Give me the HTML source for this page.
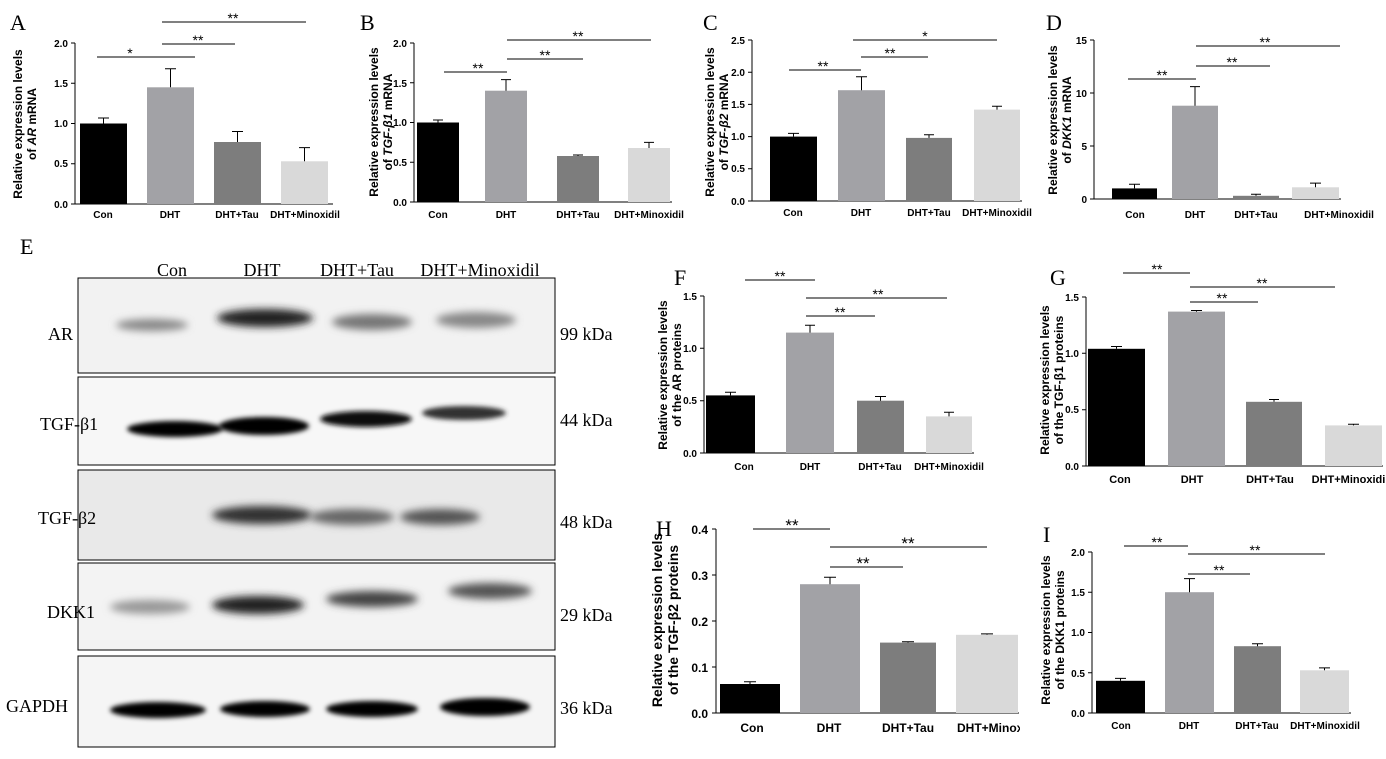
<!DOCTYPE html>
<html><head><meta charset="utf-8"><style>
body{margin:0;background:#fff}
svg{display:block}
.t{font-family:"Liberation Sans",sans-serif;font-weight:bold;font-size:10px;fill:#000}
.y{font-family:"Liberation Sans",sans-serif;font-weight:bold;font-size:12px;fill:#000}
.s{font-family:"Liberation Sans",sans-serif;font-size:14px;fill:#000}
.L{font-family:"Liberation Serif",serif;font-size:22px;fill:#000}
.w{font-family:"Liberation Serif",serif;font-size:18px;fill:#000}
line,path{stroke:#000;stroke-width:1;fill:none}
</style></head><body>
<svg width="1386" height="759" xmlns="http://www.w3.org/2000/svg">
<defs>
<filter id="b" x="-30%" y="-100%" width="160%" height="300%"><feGaussianBlur stdDeviation="4"/></filter>
<filter id="b2" x="-30%" y="-100%" width="160%" height="300%"><feGaussianBlur stdDeviation="2.5"/></filter>
<clipPath id="ch"><rect x="700" y="700" width="320" height="50"/></clipPath>
</defs>

<!-- letters -->
<text class="L" x="10" y="30">A</text><text class="L" x="360" y="30">B</text><text class="L" x="703" y="30">C</text><text class="L" x="1046" y="30">D</text>
<text class="L" x="20" y="254">E</text><text class="L" x="674" y="285">F</text><text class="L" x="1050" y="285">G</text><text class="L" x="656" y="536">H</text><text class="L" x="1043" y="542">I</text>

<!-- Panel A -->
<g>
<line x1="75" y1="43" x2="75" y2="204"/><line x1="75" y1="204" x2="333" y2="204"/>
<path d="M71 43H75M71 83.25H75M71 123.5H75M71 163.75H75M71 204H75"/>
<text class="t" x="68" y="47" text-anchor="end">2.0</text><text class="t" x="68" y="87" text-anchor="end">1.5</text><text class="t" x="68" y="127" text-anchor="end">1.0</text><text class="t" x="68" y="167" text-anchor="end">0.5</text><text class="t" x="68" y="208" text-anchor="end">0.0</text>
<rect x="80" y="123.5" width="47" height="80.5" fill="#000"/>
<rect x="147" y="87.3" width="47" height="116.7" fill="#a2a2a6"/>
<rect x="214" y="142" width="47" height="62" fill="#7d7d7d"/>
<rect x="281" y="161.3" width="47" height="42.7" fill="#d9d9d9"/>
<path d="M103.5 123.5V118M98 118H109M170.5 87.3V68.8M165 68.8H176M237.5 142V131.5M232 131.5H243M304.5 161.3V147.6M299 147.6H310"/>
<path d="M97 57H195M162 44H235M162 22H306" stroke-width="0.8"/>
<text class="s" x="130" y="58" text-anchor="middle">*</text><text class="s" x="198" y="45" text-anchor="middle">**</text><text class="s" x="233" y="23" text-anchor="middle">**</text>
<text class="t" x="103" y="218" text-anchor="middle">Con</text><text class="t" x="170" y="218" text-anchor="middle">DHT</text><text class="t" x="237" y="218" text-anchor="middle">DHT+Tau</text><text class="t" x="305" y="218" text-anchor="middle">DHT+Minoxidil</text>
<text class="y" transform="translate(22,124) rotate(-90)" text-anchor="middle">Relative expression levels</text>
<text class="y" transform="translate(36,124) rotate(-90)" text-anchor="middle">of <tspan font-style="italic">AR</tspan> mRNA</text>
</g>

<!-- Panel B -->
<g>
<line x1="414" y1="43" x2="414" y2="202"/><line x1="414" y1="202" x2="672" y2="202"/>
<path d="M410 43H414M410 82.75H414M410 122.5H414M410 162.25H414M410 202H414"/>
<text class="t" x="407" y="47" text-anchor="end">2.0</text><text class="t" x="407" y="87" text-anchor="end">1.5</text><text class="t" x="407" y="126" text-anchor="end">1.0</text><text class="t" x="407" y="166" text-anchor="end">0.5</text><text class="t" x="407" y="206" text-anchor="end">0.0</text>
<rect x="417" y="122.5" width="42" height="79.5" fill="#000"/>
<rect x="485" y="90.7" width="42" height="111.3" fill="#a2a2a6"/>
<rect x="557" y="156" width="42" height="46" fill="#7d7d7d"/>
<rect x="628" y="148" width="42" height="54" fill="#d9d9d9"/>
<path d="M438 122.5V120M433 120H443M506 90.7V79.6M501 79.6H511M578 156V155M573 155H583M649 148V142.4M644 142.4H654"/>
<path d="M444 72H507M507 59H583M507 40H651" stroke-width="0.8"/>
<text class="s" x="478" y="73" text-anchor="middle">**</text><text class="s" x="545" y="60" text-anchor="middle">**</text><text class="s" x="578" y="41" text-anchor="middle">**</text>
<text class="t" x="438" y="218" text-anchor="middle">Con</text><text class="t" x="506" y="218" text-anchor="middle">DHT</text><text class="t" x="578" y="218" text-anchor="middle">DHT+Tau</text><text class="t" x="649" y="218" text-anchor="middle">DHT+Minoxidil</text>
<text class="y" transform="translate(378,122) rotate(-90)" text-anchor="middle">Relative expression levels</text>
<text class="y" transform="translate(392,122) rotate(-90)" text-anchor="middle">of <tspan font-style="italic">TGF-β1</tspan> mRNA</text>
</g>

<!-- Panel C -->
<g>
<line x1="752" y1="40" x2="752" y2="201"/><line x1="752" y1="201" x2="1022" y2="201"/>
<path d="M748 40H752M748 72.2H752M748 104.4H752M748 136.6H752M748 168.8H752M748 201H752"/>
<text class="t" x="745" y="44" text-anchor="end">2.5</text><text class="t" x="745" y="76" text-anchor="end">2.0</text><text class="t" x="745" y="108" text-anchor="end">1.5</text><text class="t" x="745" y="140" text-anchor="end">1.0</text><text class="t" x="745" y="172" text-anchor="end">0.5</text><text class="t" x="745" y="205" text-anchor="end">0.0</text>
<rect x="770" y="136.6" width="47" height="64.4" fill="#000"/>
<rect x="838" y="90.2" width="47" height="110.8" fill="#a2a2a6"/>
<rect x="906" y="137.9" width="46" height="63.1" fill="#7d7d7d"/>
<rect x="974" y="109.6" width="46" height="91.4" fill="#d9d9d9"/>
<path d="M793.5 136.6V133.4M788 133.4H799M861.5 90.2V76.7M856 76.7H867M929 137.9V134.7M924 134.7H934M997 109.6V106.3M992 106.3H1002"/>
<path d="M789 70H861M861 57H928M853 40H997" stroke-width="0.8"/>
<text class="s" x="823" y="71" text-anchor="middle">**</text><text class="s" x="890" y="58" text-anchor="middle">**</text><text class="s" x="925" y="41" text-anchor="middle">*</text>
<text class="t" x="793" y="216" text-anchor="middle">Con</text><text class="t" x="861" y="216" text-anchor="middle">DHT</text><text class="t" x="929" y="216" text-anchor="middle">DHT+Tau</text><text class="t" x="997" y="216" text-anchor="middle">DHT+Minoxidil</text>
<text class="y" transform="translate(714,122) rotate(-90)" text-anchor="middle">Relative expression levels</text>
<text class="y" transform="translate(728,122) rotate(-90)" text-anchor="middle">of <tspan font-style="italic">TGF-β2</tspan>  mRNA</text>
</g>

<!-- Panel D -->
<g>
<line x1="1094" y1="40" x2="1094" y2="199"/><line x1="1094" y1="199" x2="1341" y2="199"/>
<path d="M1090 40H1094M1090 93H1094M1090 146H1094M1090 199H1094"/>
<text class="t" x="1087" y="44" text-anchor="end">15</text><text class="t" x="1087" y="97" text-anchor="end">10</text><text class="t" x="1087" y="150" text-anchor="end">5</text><text class="t" x="1087" y="203" text-anchor="end">0</text>
<rect x="1112" y="188.4" width="45" height="10.6" fill="#000"/>
<rect x="1172" y="105.7" width="46" height="93.3" fill="#a2a2a6"/>
<rect x="1233" y="195.8" width="46" height="3.2" fill="#7d7d7d"/>
<rect x="1292" y="187.3" width="47" height="11.7" fill="#d9d9d9"/>
<path d="M1134.5 188.4V184.2M1129 184.2H1140M1195 105.7V86.6M1190 86.6H1200M1256 195.8V194.2M1251 194.2H1261M1315.5 187.3V183.1M1310 183.1H1321"/>
<path d="M1128 79H1196M1196 66H1270M1196 46H1340" stroke-width="0.8"/>
<text class="s" x="1162" y="80" text-anchor="middle">**</text><text class="s" x="1232" y="67" text-anchor="middle">**</text><text class="s" x="1265" y="47" text-anchor="middle">**</text>
<text class="t" x="1135" y="218" text-anchor="middle">Con</text><text class="t" x="1195" y="218" text-anchor="middle">DHT</text><text class="t" x="1256" y="218" text-anchor="middle">DHT+Tau</text><text class="t" x="1339" y="218" text-anchor="middle">DHT+Minoxidil</text>
<text class="y" transform="translate(1057,120) rotate(-90)" text-anchor="middle">Relative expression levels</text>
<text class="y" transform="translate(1071,120) rotate(-90)" text-anchor="middle">of <tspan font-style="italic">DKK1</tspan> mRNA</text>
</g>

<!-- Panel F -->
<g>
<line x1="704" y1="296" x2="704" y2="453"/><line x1="704" y1="453" x2="974" y2="453"/>
<path d="M700 296H704M700 348.3H704M700 400.7H704M700 453H704"/>
<text class="t" x="697" y="300" text-anchor="end">1.5</text><text class="t" x="697" y="352" text-anchor="end">1.0</text><text class="t" x="697" y="404" text-anchor="end">0.5</text><text class="t" x="697" y="457" text-anchor="end">0.0</text>
<rect x="706" y="395.4" width="49" height="57.6" fill="#000"/>
<rect x="786" y="332.6" width="48" height="120.4" fill="#a2a2a6"/>
<rect x="857" y="400.7" width="47" height="52.3" fill="#7d7d7d"/>
<rect x="926" y="416.4" width="46" height="36.6" fill="#d9d9d9"/>
<path d="M730.5 395.4V392.3M725 392.3H736M810 332.6V325.3M805 325.3H815M880.5 400.7V396.5M875 396.5H886M949 416.4V412.2M944 412.2H954"/>
<path d="M745 280H815M806 316H875M806 298H947" stroke-width="0.8"/>
<text class="s" x="780" y="281" text-anchor="middle">**</text><text class="s" x="840" y="317" text-anchor="middle">**</text><text class="s" x="878" y="299" text-anchor="middle">**</text>
<text class="t" x="744" y="470" text-anchor="middle">Con</text><text class="t" x="810" y="470" text-anchor="middle">DHT</text><text class="t" x="880" y="470" text-anchor="middle">DHT+Tau</text><text class="t" x="949" y="470" text-anchor="middle">DHT+Minoxidil</text>
<text class="y" transform="translate(667,375) rotate(-90)" text-anchor="middle">Relative expression levels</text>
<text class="y" transform="translate(681,375) rotate(-90)" text-anchor="middle">of the AR proteins</text>
</g>

<!-- Panel G -->
<g>
<line x1="1086" y1="297" x2="1086" y2="466"/><line x1="1086" y1="466" x2="1383" y2="466"/>
<path d="M1082 297H1086M1082 353.3H1086M1082 409.7H1086M1082 466H1086"/>
<text class="t" x="1079" y="301" text-anchor="end">1.5</text><text class="t" x="1079" y="357" text-anchor="end">1.0</text><text class="t" x="1079" y="413" text-anchor="end">0.5</text><text class="t" x="1079" y="470" text-anchor="end">0.0</text>
<rect x="1088" y="348.8" width="57" height="117.2" fill="#000"/>
<rect x="1168" y="311.6" width="57" height="154.4" fill="#a2a2a6"/>
<rect x="1246" y="401.8" width="56" height="64.2" fill="#7d7d7d"/>
<rect x="1325" y="425.4" width="57" height="40.6" fill="#d9d9d9"/>
<path d="M1116.5 348.8V346.5M1111 346.5H1122M1196.5 311.6V310.5M1191 310.5H1202M1274 401.8V399.5M1269 399.5H1279M1353.5 425.4V424.3M1348 424.3H1359"/>
<path d="M1123 273H1190M1190 302H1258M1190 287H1335" stroke-width="0.8"/>
<text class="s" x="1157" y="274" text-anchor="middle">**</text><text class="s" x="1222" y="303" text-anchor="middle">**</text><text class="s" x="1262" y="288" text-anchor="middle">**</text>
<text class="y" x="1120" y="483" text-anchor="middle" style="font-size:11px">Con</text><text class="y" x="1192" y="483" text-anchor="middle" style="font-size:11px">DHT</text><text class="y" x="1270" y="483" text-anchor="middle" style="font-size:11px">DHT+Tau</text><text class="y" x="1350" y="483" text-anchor="middle" style="font-size:11px">DHT+Minoxidil</text>
<text class="y" transform="translate(1049,380) rotate(-90)" text-anchor="middle">Relative expression levels</text>
<text class="y" transform="translate(1063,380) rotate(-90)" text-anchor="middle">of the TGF-β1 proteins</text>
</g>

<!-- Panel H -->
<g>
<line x1="716" y1="529" x2="716" y2="713"/><line x1="716" y1="713" x2="1019" y2="713"/>
<path d="M712 529H716M712 575H716M712 621H716M712 667H716M712 713H716"/>
<text class="y" x="708" y="534" text-anchor="end">0.4</text><text class="y" x="708" y="580" text-anchor="end">0.3</text><text class="y" x="708" y="626" text-anchor="end">0.2</text><text class="y" x="708" y="672" text-anchor="end">0.1</text><text class="y" x="708" y="718" text-anchor="end">0.0</text>
<rect x="720" y="684" width="60" height="29" fill="#000"/>
<rect x="800" y="584.2" width="60" height="128.8" fill="#a2a2a6"/>
<rect x="880" y="642.6" width="56" height="70.4" fill="#7d7d7d"/>
<rect x="956" y="634.8" width="62" height="78.2" fill="#d9d9d9"/>
<path d="M750 684V681.7M744 681.7H756M830 584.2V577.3M824 577.3H836M908 642.6V641.7M902 641.7H914M987 634.8V633.9M981 633.9H993"/>
<path d="M753 529H830M830 567H903M830 547H987" stroke-width="0.8"/>
<text class="s" x="792" y="531" text-anchor="middle" style="font-size:17px">**</text><text class="s" x="863" y="569" text-anchor="middle" style="font-size:17px">**</text><text class="s" x="908" y="549" text-anchor="middle" style="font-size:17px">**</text>
<g clip-path="url(#ch)"><text class="y" x="752" y="732" text-anchor="middle">Con</text><text class="y" x="829" y="732" text-anchor="middle">DHT</text><text class="y" x="908" y="732" text-anchor="middle">DHT+Tau</text><text class="y" x="957" y="732">DHT+Minoxidil</text></g>
<text class="y" transform="translate(662,620) rotate(-90)" text-anchor="middle" style="font-size:14px">Relative expression levels</text>
<text class="y" transform="translate(678,620) rotate(-90)" text-anchor="middle" style="font-size:14px">of the TGF-β2 proteins</text>
</g>

<!-- Panel I -->
<g>
<line x1="1092" y1="552" x2="1092" y2="713"/><line x1="1092" y1="713" x2="1351" y2="713"/>
<path d="M1088 552H1092M1088 592.25H1092M1088 632.5H1092M1088 672.75H1092M1088 713H1092"/>
<text class="t" x="1085" y="556" text-anchor="end">2.0</text><text class="t" x="1085" y="596" text-anchor="end">1.5</text><text class="t" x="1085" y="636" text-anchor="end">1.0</text><text class="t" x="1085" y="677" text-anchor="end">0.5</text><text class="t" x="1085" y="717" text-anchor="end">0.0</text>
<rect x="1096" y="680.8" width="49" height="32.2" fill="#000"/>
<rect x="1165" y="592.2" width="49" height="120.8" fill="#a2a2a6"/>
<rect x="1234" y="646.2" width="47" height="66.8" fill="#7d7d7d"/>
<rect x="1300" y="670.3" width="49" height="42.7" fill="#d9d9d9"/>
<path d="M1120.5 680.8V678.4M1115 678.4H1126M1189.5 592.2V578.6M1184 578.6H1195M1257.5 646.2V643.8M1252 643.8H1263M1324.5 670.3V667.9M1319 667.9H1330"/>
<path d="M1124 546H1188M1188 574H1250M1188 554H1325" stroke-width="0.8"/>
<text class="s" x="1157" y="547" text-anchor="middle">**</text><text class="s" x="1219" y="575" text-anchor="middle">**</text><text class="s" x="1255" y="555" text-anchor="middle">**</text>
<text class="t" x="1121" y="729" text-anchor="middle">Con</text><text class="t" x="1189" y="729" text-anchor="middle">DHT</text><text class="t" x="1257" y="729" text-anchor="middle">DHT+Tau</text><text class="t" x="1325" y="729" text-anchor="middle">DHT+Minoxidil</text>
<text class="y" transform="translate(1050,630) rotate(-90)" text-anchor="middle">Relative expression levels</text>
<text class="y" transform="translate(1064,630) rotate(-90)" text-anchor="middle">of the DKK1 proteins</text>
</g>

<!-- Western blot -->
<g>
<text class="w" x="172" y="276" text-anchor="middle">Con</text><text class="w" x="262" y="276" text-anchor="middle">DHT</text><text class="w" x="357" y="276" text-anchor="middle">DHT+Tau</text><text class="w" x="480" y="276" text-anchor="middle">DHT+Minoxidil</text>
<rect x="78" y="278" width="477" height="95" fill="#f2f2f2" stroke="#000"/>
<rect x="78" y="377" width="477" height="88" fill="#f7f7f7" stroke="#000"/>
<rect x="78" y="470" width="477" height="90" fill="#e9e9e9" stroke="#000"/>
<rect x="78" y="563" width="477" height="87" fill="#f3f3f3" stroke="#000"/>
<rect x="78" y="656" width="477" height="91" fill="#f5f5f5" stroke="#000"/>
<!-- AR -->
<ellipse cx="152" cy="325" rx="36" ry="6" fill="#888" filter="url(#b)"/>
<ellipse cx="265" cy="318" rx="48" ry="9" fill="#222" filter="url(#b)"/>
<ellipse cx="372" cy="322" rx="40" ry="8" fill="#777" filter="url(#b)"/>
<ellipse cx="476" cy="320" rx="40" ry="8" fill="#888" filter="url(#b)"/>
<!-- TGF-b1 -->
<ellipse cx="175" cy="429" rx="48" ry="8" fill="#000" filter="url(#b2)"/>
<ellipse cx="264" cy="426" rx="45" ry="9" fill="#000" filter="url(#b2)"/>
<ellipse cx="366" cy="419" rx="46" ry="8" fill="#111" filter="url(#b2)"/>
<ellipse cx="464" cy="413" rx="42" ry="7" fill="#333" filter="url(#b2)"/>
<!-- TGF-b2 -->
<ellipse cx="262" cy="515" rx="50" ry="9" fill="#333" filter="url(#b)"/>
<ellipse cx="352" cy="517" rx="42" ry="8" fill="#666" filter="url(#b)"/>
<ellipse cx="440" cy="517" rx="40" ry="8" fill="#555" filter="url(#b)"/>
<!-- DKK1 -->
<ellipse cx="150" cy="607" rx="40" ry="7" fill="#999" filter="url(#b)"/>
<ellipse cx="258" cy="605" rx="46" ry="9" fill="#222" filter="url(#b)"/>
<ellipse cx="372" cy="599" rx="46" ry="8" fill="#444" filter="url(#b)"/>
<ellipse cx="490" cy="591" rx="42" ry="8" fill="#555" filter="url(#b)"/>
<!-- GAPDH -->
<ellipse cx="158" cy="710" rx="48" ry="8" fill="#000" filter="url(#b2)"/>
<ellipse cx="265" cy="709" rx="45" ry="8" fill="#000" filter="url(#b2)"/>
<ellipse cx="372" cy="709" rx="46" ry="8" fill="#000" filter="url(#b2)"/>
<ellipse cx="485" cy="707" rx="45" ry="9" fill="#000" filter="url(#b2)"/>
<text class="w" x="48" y="340">AR</text><text class="w" x="40" y="430">TGF-β1</text><text class="w" x="38" y="524">TGF-β2</text><text class="w" x="47" y="618">DKK1</text><text class="w" x="6" y="712">GAPDH</text>
<text class="w" x="560" y="340">99 kDa</text><text class="w" x="560" y="426">44 kDa</text><text class="w" x="560" y="528">48 kDa</text><text class="w" x="560" y="621">29 kDa</text><text class="w" x="560" y="714">36 kDa</text>
</g>
</svg>
</body></html>
